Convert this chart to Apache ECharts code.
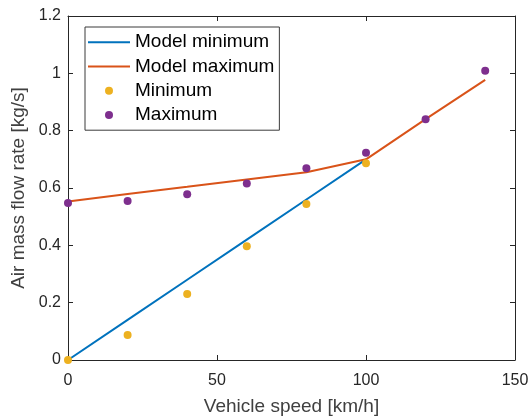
<!DOCTYPE html>
<html>
<head>
<meta charset="utf-8">
<script src="https://cdn.jsdelivr.net/npm/echarts@6/dist/echarts.min.js"></script>
<style>
html,body{margin:0;padding:0;background:#fff;}
#chart{width:532px;height:416px;}
</style>
</head>
<body>
<div id="chart"></div>
<script>
// Vehicle speed samples [km/h]
const speedMeasured = [0, 20, 40, 60, 80, 100, 120, 140];
// Measured minimum air mass flow rate [kg/s] (defined up to 100 km/h)
const minimumMeasured = [0.0, 0.087, 0.23, 0.397, 0.544, 0.686];
// Measured maximum air mass flow rate [kg/s]
const maximumMeasured = [0.548, 0.555, 0.578, 0.616, 0.669, 0.723, 0.84, 1.009];
// Model curves
const speedModelMin = [0, 20, 40, 60, 80, 100];
const modelMinimum = [0.0, 0.14, 0.28, 0.42, 0.56, 0.70];
const speedModelMax = [0, 20, 40, 60, 80, 100, 120, 140];
const modelMaximum = [0.553, 0.579, 0.604, 0.63, 0.655, 0.70, 0.84, 0.977];

const xTicks = [0, 50, 100, 150];
const yTicks = [0, 0.2, 0.4, 0.6, 0.8, 1, 1.2];

const C_BLUE = '#0072BD', C_ORANGE = '#D95319', C_YELLOW = '#EDB120', C_PURPLE = '#7E2F8E';
const AX = '#262626';
const FONT = 'Liberation Sans, Arial, sans-serif';
// thin horizontal bar used as the legend sample for the model lines
const LINE_ICON = 'path://M0,0 H42 V2 H0 Z';

const pairs = (xs, ys) => ys.map((y, i) => [xs[i], y]);

const chart = echarts.init(document.getElementById('chart'), null, {renderer: 'canvas'});

const baseAxis = {
  axisLine: {show: true, onZero: false, lineStyle: {color: AX, width: 1}},
  axisTick: {show: true, inside: true, length: 5, lineStyle: {color: AX}},
  splitLine: {show: false}
};

chart.setOption({
  animation: false,
  backgroundColor: '#fff',
  grid: {left: 68, right: 17, top: 16, bottom: 56, containLabel: false, outerBoundsMode: 'none'},
  legend: {
    orient: 'vertical',
    left: 85, top: 27,
    padding: [5, 5, 5, 3],
    itemGap: 4,
    itemWidth: 42,
    itemHeight: 8,
    backgroundColor: '#fff',
    borderColor: '#3a3a3a',
    borderWidth: 1,
    borderRadius: 0,
    textStyle: {fontFamily: FONT, fontSize: 19, color: '#000', lineHeight: 20.3},
    data: [
      {name: 'Model minimum', icon: LINE_ICON},
      {name: 'Model maximum', icon: LINE_ICON},
      {name: 'Minimum', icon: 'circle'},
      {name: 'Maximum', icon: 'circle'}
    ]
  },
  xAxis: [
    Object.assign({}, baseAxis, {
      type: 'value', min: 0, max: 150, interval: 50, position: 'bottom',
      name: 'Vehicle speed [km/h]', nameLocation: 'middle', nameGap: 37,
      nameTextStyle: {fontFamily: FONT, fontSize: 19, color: '#404040'},
      axisLabel: {fontFamily: FONT, fontSize: 16, color: AX, margin: 13,
        formatter: v => xTicks.includes(v) ? String(v) : ''}
    }),
    Object.assign({}, baseAxis, {
      type: 'value', min: 0, max: 150, interval: 50, position: 'top',
      axisLabel: {show: false}
    })
  ],
  yAxis: [
    Object.assign({}, baseAxis, {
      type: 'value', min: 0, max: 1.2, interval: 0.2, position: 'left',
      name: 'Air mass flow rate [kg/s]', nameLocation: 'middle', nameGap: 36,
      nameTextStyle: {fontFamily: FONT, fontSize: 19, color: '#404040'},
      axisLabel: {fontFamily: FONT, fontSize: 16, color: AX, margin: 7,
        formatter: v => {
          const t = yTicks.find(k => Math.abs(k - v) < 1e-9);
          return t === undefined ? '' : String(t);
        }}
    }),
    Object.assign({}, baseAxis, {
      type: 'value', min: 0, max: 1.2, interval: 0.2, position: 'right',
      axisLabel: {show: false}
    })
  ],
  series: [
    {
      name: 'Model minimum', type: 'line', xAxisIndex: 0, yAxisIndex: 0,
      data: pairs(speedModelMin, modelMinimum),
      symbol: 'none', lineStyle: {color: C_BLUE, width: 2}, itemStyle: {color: C_BLUE}, z: 2
    },
    {
      name: 'Model maximum', type: 'line', xAxisIndex: 0, yAxisIndex: 0,
      data: pairs(speedModelMax, modelMaximum),
      symbol: 'none', lineStyle: {color: C_ORANGE, width: 2}, itemStyle: {color: C_ORANGE}, z: 2
    },
    {
      name: 'Minimum', type: 'scatter', xAxisIndex: 0, yAxisIndex: 0,
      data: pairs(speedMeasured, minimumMeasured),
      symbolSize: 8, itemStyle: {color: C_YELLOW, opacity: 1}, z: 3
    },
    {
      name: 'Maximum', type: 'scatter', xAxisIndex: 0, yAxisIndex: 0,
      data: pairs(speedMeasured, maximumMeasured),
      symbolSize: 8, itemStyle: {color: C_PURPLE, opacity: 1}, z: 3
    }
  ]
});
</script>
</body>
</html>
